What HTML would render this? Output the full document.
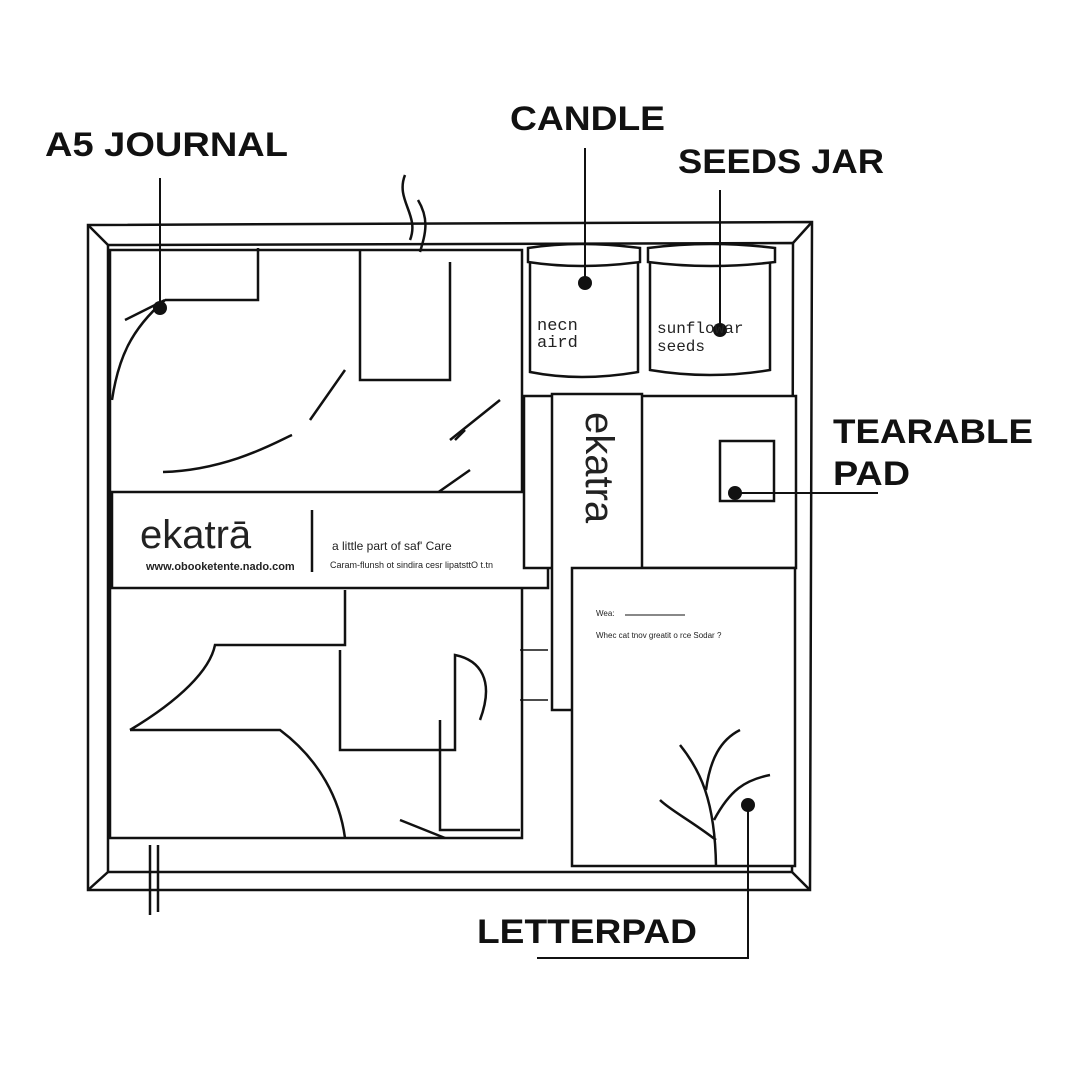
<!DOCTYPE html>
<html><head><meta charset="utf-8"><style>
html,body{margin:0;padding:0;background:#fff;}
svg{display:block}
.l{font-family:"Liberation Sans",sans-serif;font-weight:bold;font-size:34px;fill:#111}
</style></head><body>
<svg width="1080" height="1080" viewBox="0 0 1080 1080" xmlns="http://www.w3.org/2000/svg">
<g fill="none" stroke="#111" stroke-width="2.5">
<polygon points="88,225 812,222 810,890 88,890"/>
<polygon points="108,245 793,243 792,872 108,872"/>
<line x1="88" y1="225" x2="108" y2="245"/><line x1="812" y1="222" x2="793" y2="243"/>
<line x1="88" y1="890" x2="108" y2="872"/><line x1="810" y1="890" x2="792" y2="872"/>
<rect x="110" y="250" width="412" height="588" fill="#fff"/>
<path d="M165,300 H258 V248 M360,250 V380 H450 V262 M310,420 L345,370 M163,472 C230,470 280,440 292,435 M430,498 L470,470 M450,440 L500,400 M125,320 L165,300 C130,330 118,360 112,400"/>
<path d="M130,730 C180,700 210,670 215,645 H345 V590 M340,650 V750 H455 V655 C480,660 495,680 480,720 M130,730 H280 C320,760 340,800 345,838 M440,720 V830 H520"/>
<path d="M455,440 L465,430 M400,820 L445,838"/>
<rect x="112" y="492" width="436" height="96" fill="#fff"/>
<line x1="312" y1="510" x2="312" y2="572"/>
<path d="M405,175 C395,200 420,215 410,240 M418,200 C430,220 425,235 420,252 M150,845 L150,915 M158,845 L158,912"/>
<path d="M528,248 Q580,240 640,248 L640,262 Q580,270 528,262 Z" fill="#fff"/>
<path d="M530,262 V372 Q580,382 638,372 V262"/>
<path d="M648,248 Q710,240 775,248 L775,262 Q710,270 648,262 Z" fill="#fff"/>
<path d="M650,262 V370 Q710,380 770,370 V262"/>
<rect x="524" y="396" width="272" height="172" fill="#fff"/>
<rect x="720" y="441" width="54" height="60"/>
<rect x="552" y="394" width="90" height="316" fill="#fff"/>
<rect x="572" y="568" width="223" height="298" fill="#fff"/>
<line x1="625" y1="615" x2="685" y2="615" stroke-width="1"/>
<path d="M716,866 C715,800 700,770 680,745 M714,820 C730,790 745,780 770,775 M716,840 C690,820 670,810 660,800 M706,790 C710,760 720,740 740,730"/>
<path d="M520,650 H548 M520,700 H548" stroke-width="1.5"/>
<g stroke-width="2"><line x1="160" y1="178" x2="160" y2="308"/><line x1="585" y1="148" x2="585" y2="283"/><line x1="720" y1="190" x2="720" y2="330"/><line x1="735" y1="493" x2="878" y2="493"/><polyline points="748,805 748,958 537,958"/></g>
</g>
<g fill="#111"><circle cx="160" cy="308" r="7"/><circle cx="585" cy="283" r="7"/><circle cx="720" cy="330" r="7"/><circle cx="735" cy="493" r="7"/><circle cx="748" cy="805" r="7"/></g>
<g font-family="Liberation Sans,sans-serif" fill="#222">
<text x="140" y="548" font-size="40">ekatrā</text>
<text x="146" y="570" font-size="11" font-weight="bold">www.obooketente.nado.com</text>
<text x="332" y="550" font-size="12">a little part of saf' Care</text>
<text x="330" y="568" font-size="9">Caram-flunsh ot sindira cesr lipatsttO t.tn</text>
<text x="537" y="330" font-size="17" font-family="Liberation Mono,monospace">necn</text>
<text x="537" y="347" font-size="17" font-family="Liberation Mono,monospace">aird</text>
<text x="657" y="333" font-size="16" font-family="Liberation Mono,monospace">sunflowar</text>
<text x="657" y="351" font-size="16" font-family="Liberation Mono,monospace">seeds</text>
<text transform="translate(586,412) rotate(90)" font-size="40">ekatra</text>
<text x="596" y="616" font-size="8">Wea:</text>
<text x="596" y="638" font-size="8">Whec cat tnov greatit o rce Sodar ?</text>
</g>
<text class="l" x="45" y="156" textLength="243" lengthAdjust="spacingAndGlyphs">A5 JOURNAL</text>
<text class="l" x="510" y="130" textLength="155" lengthAdjust="spacingAndGlyphs">CANDLE</text>
<text class="l" x="678" y="173" textLength="206" lengthAdjust="spacingAndGlyphs">SEEDS JAR</text>
<text class="l" x="833" y="443" textLength="200" lengthAdjust="spacingAndGlyphs">TEARABLE</text>
<text class="l" x="833" y="485" textLength="77" lengthAdjust="spacingAndGlyphs">PAD</text>
<text class="l" x="477" y="943" textLength="220" lengthAdjust="spacingAndGlyphs">LETTERPAD</text>
</svg>
</body></html>
